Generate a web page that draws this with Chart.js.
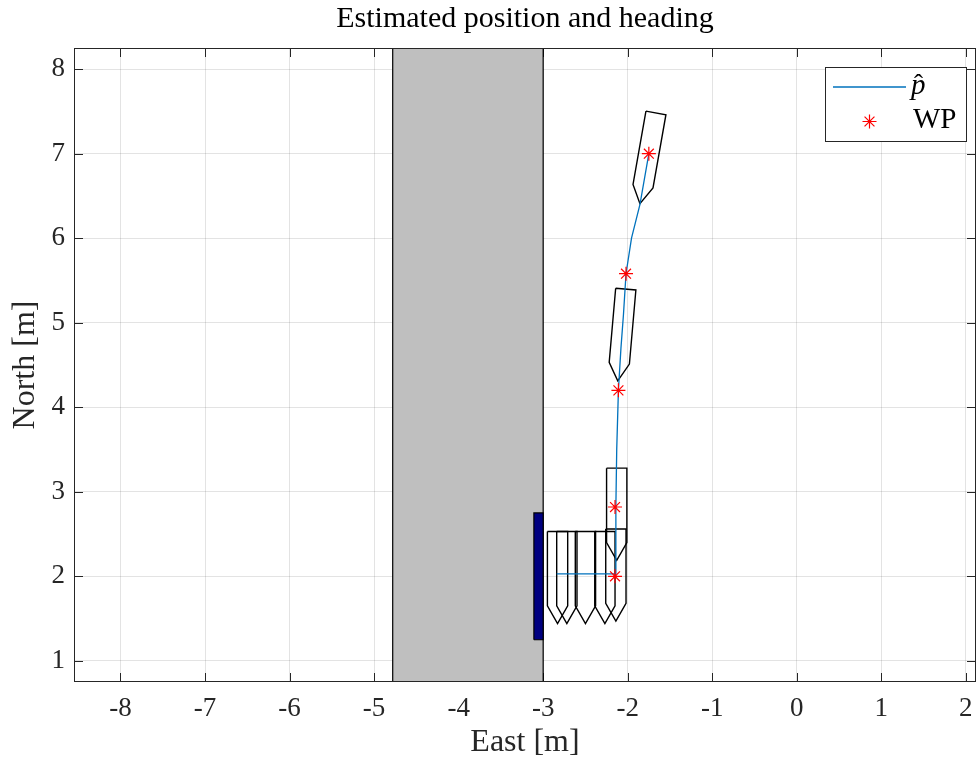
<!DOCTYPE html>
<html>
<head>
<meta charset="utf-8">
<script src="https://cdn.jsdelivr.net/npm/chart.js@4.4.1/dist/chart.umd.min.js"></script>
<style>
  html, body { margin: 0; padding: 0; background: #ffffff; }
  #wrap { width: 976px; height: 762px; }
</style>
</head>
<body>
<div id="wrap"><canvas id="c" width="976" height="762"></canvas></div>
<script>
// ---------------- data ----------------
const xTicks = [-8, -7, -6, -5, -4, -3, -2, -1, 0, 1, 2];
const yTicks = [1, 2, 3, 4, 5, 6, 7, 8];
const xLimits = [-8.55, 2.12];
const yLimits = [0.75, 8.25];

// estimated position p-hat
const pathEast  = [-2.84, -2.14, -2.14, -2.13, -2.11, -2.08, -2.05, -2.02, -1.955, -1.855, -1.75];
const pathNorth = [ 2.03,  2.03,  2.82,  3.50,  4.20,  4.70,  5.10,  5.58,  6.00,   6.40,   7.00];

// waypoints
const wpEast  = [-2.15, -2.15, -2.11, -2.02, -1.75];
const wpNorth = [ 2.00,  2.82,  4.20,  5.58,  7.00];

// vessel poses (centre east, centre north, heading deg clockwise from north)
const boatEast    = [-2.83, -2.72, -2.50, -2.27, -2.14, -2.13, -2.07, -1.76];
const boatNorth   = [ 1.99,  1.99,  1.99,  1.99,  2.02,  2.74,  4.86,  6.95];
const boatHeading = [ 0,     0,     0,     0,     0,     0,     5,     10  ];

// quay (grey) and fender (navy) regions
const quayEast    = [-4.78, -3.00];
const fenderEast  = [-3.11, -3.00];
const fenderNorth = [ 1.25,  2.75];

// ---------------- helpers ----------------
// hull outline in body frame: [forward, starboard]
const hull = [[0.54, -0.12], [0.54, 0.12], [-0.34, 0.12], [-0.55, 0.0], [-0.34, -0.12], [0.54, -0.12]];
function hullPoints(e, n, hdgDeg) {
  const t = hdgDeg * Math.PI / 180;
  const fx = Math.sin(t), fy = Math.cos(t);
  const rx = Math.cos(t), ry = -Math.sin(t);
  return hull.map(([u, v]) => ({ x: e + u * fx + v * rx, y: n + u * fy + v * ry }));
}
function rectOutline(x0, x1, y0, y1) {
  return [{x: x0, y: y0}, {x: x0, y: y1}, {x: x1, y: y1}, {x: x1, y: y0}, {x: x0, y: y0}];
}

const SERIF = "'Liberation Serif', 'Times New Roman', serif";
const AXC = '#262626';

const datasets = [];
datasets.push({
  label: 'quayFill', data: [{x: quayEast[0], y: yLimits[1]}, {x: quayEast[1], y: yLimits[1]}],
  showLine: true, borderWidth: 0, borderColor: 'rgba(0,0,0,0)', backgroundColor: '#bfbfbf',
  fill: {value: yLimits[0]}, pointRadius: 0, order: 20
});
datasets.push({
  label: 'quayEdge', data: rectOutline(quayEast[0], quayEast[1], yLimits[0], yLimits[1]),
  showLine: true, borderWidth: 1.2, borderColor: '#000000', fill: false, pointRadius: 0, order: 19
});
datasets.push({
  label: 'fenderFill', data: [{x: fenderEast[0], y: fenderNorth[1]}, {x: fenderEast[1], y: fenderNorth[1]}],
  showLine: true, borderWidth: 0, borderColor: 'rgba(0,0,0,0)', backgroundColor: '#000080',
  fill: {value: fenderNorth[0]}, pointRadius: 0, order: 18
});
datasets.push({
  label: 'fenderEdge', data: rectOutline(fenderEast[0], fenderEast[1], fenderNorth[0], fenderNorth[1]),
  showLine: true, borderWidth: 1.2, borderColor: '#000000', fill: false, pointRadius: 0, order: 17
});
for (let i = 0; i < boatEast.length; i++) {
  datasets.push({
    label: 'boat' + i, data: hullPoints(boatEast[i], boatNorth[i], boatHeading[i]),
    showLine: true, borderWidth: 1.4, borderColor: '#000000', fill: false, pointRadius: 0,
    tension: 0, order: 10
  });
}
datasets.push({
  label: 'p', data: pathEast.map((e, i) => ({x: e, y: pathNorth[i]})),
  showLine: true, borderWidth: 1.3, borderColor: '#0072BD', fill: false, pointRadius: 0, order: 5
});
datasets.push({
  label: 'WP', data: wpEast.map((e, i) => ({x: e, y: wpNorth[i]})),
  showLine: false, pointStyle: 'star', pointRadius: 7, pointBorderColor: '#ff0000',
  borderColor: '#ff0000', pointBorderWidth: 1.2, backgroundColor: '#ff0000', order: 1
});

const tickPlugin = {
  id: 'inTicks',
  beforeDatasetsDraw(chart) {
    const {ctx, chartArea: a, scales: {x, y}} = chart;
    const L = 9;
    ctx.save();
    ctx.strokeStyle = AXC; ctx.lineWidth = 1;
    ctx.beginPath();
    xTicks.forEach(v => {
      const px = Math.round(x.getPixelForValue(v)) + 0.5;
      ctx.moveTo(px, a.bottom); ctx.lineTo(px, a.bottom - L);
      ctx.moveTo(px, a.top); ctx.lineTo(px, a.top + L);
    });
    yTicks.forEach(v => {
      const py = Math.round(y.getPixelForValue(v)) + 0.5;
      ctx.moveTo(a.left, py); ctx.lineTo(a.left + L, py);
      ctx.moveTo(a.right, py); ctx.lineTo(a.right - L, py);
    });
    ctx.stroke();
    ctx.restore();
  },
  afterDatasetsDraw(chart) {
    const {ctx, chartArea: a} = chart;
    ctx.save();
    ctx.strokeStyle = AXC; ctx.lineWidth = 1;
    ctx.strokeRect(Math.round(a.left) + 0.5, Math.round(a.top) + 0.5,
                   Math.round(a.right - a.left) - 1, Math.round(a.bottom - a.top) - 1);
    ctx.restore();
  }
};

const legendPlugin = {
  id: 'boxLegend',
  afterDraw(chart) {
    const {ctx} = chart;
    const bx = 825, by = 67, bw = 141, bh = 74;
    ctx.save();
    ctx.fillStyle = '#ffffff';
    ctx.fillRect(bx, by, bw, bh);
    ctx.strokeStyle = AXC; ctx.lineWidth = 1;
    ctx.strokeRect(bx + 0.5, by + 0.5, bw, bh);
    ctx.strokeStyle = '#0072BD'; ctx.lineWidth = 1.3;
    ctx.beginPath(); ctx.moveTo(833, 87); ctx.lineTo(906, 87); ctx.stroke();
    ctx.fillStyle = '#000000';
    ctx.textBaseline = 'alphabetic'; ctx.textAlign = 'left';
    ctx.font = 'italic 29px ' + SERIF;
    ctx.fillText('p', 911, 94);
    ctx.font = '27px ' + SERIF;
    ctx.fillText('\u02C6', 914, 93);
    const r = 7, cx = 869.5, cy = 121.5;
    ctx.strokeStyle = '#ff0000'; ctx.lineWidth = 1.2;
    ctx.beginPath();
    ctx.moveTo(cx - r, cy); ctx.lineTo(cx + r, cy);
    ctx.moveTo(cx, cy - r); ctx.lineTo(cx, cy + r);
    const d = r * Math.SQRT1_2;
    ctx.moveTo(cx - d, cy - d); ctx.lineTo(cx + d, cy + d);
    ctx.moveTo(cx - d, cy + d); ctx.lineTo(cx + d, cy - d);
    ctx.stroke();
    ctx.fillStyle = '#000000';
    ctx.font = '29px ' + SERIF;
    ctx.fillText('WP', 913, 128);
    ctx.restore();
  }
};

const gridColor = 'rgba(38,38,38,0.13)';

new Chart(document.getElementById('c'), {
  type: 'scatter',
  data: { datasets },
  options: {
    responsive: false,
    animation: false,
    devicePixelRatio: 1,
    layout: { padding: 0, autoPadding: false },
    plugins: {
      legend: { display: false },
      tooltip: { enabled: false },
      title: {
        display: true, fullSize: false, text: 'Estimated position and heading', color: '#000000',
        font: { family: SERIF, size: 30, weight: 'normal', lineHeight: 1.2 },
        padding: { top: 1, bottom: 11 }
      }
    },
    scales: {
      x: {
        type: 'linear', min: xLimits[0], max: xLimits[1],
        afterBuildTicks: s => { s.ticks = xTicks.map(v => ({value: v})); },
        afterFit: s => { s.height = 80; s.paddingLeft = 0; s.paddingRight = 0; },
        ticks: { color: AXC, font: { family: SERIF, size: 27 }, padding: 11, maxRotation: 0,
                 callback: v => String(v) },
        grid: { color: gridColor, drawTicks: false, lineWidth: 1 },
        border: { display: false },
        title: { display: true, text: 'East [m]', color: AXC,
                 font: { family: SERIF, size: 32, lineHeight: 1.2 }, padding: { top: 0, bottom: 0 } }
      },
      y: {
        type: 'linear', min: yLimits[0], max: yLimits[1],
        afterBuildTicks: s => { s.ticks = yTicks.map(v => ({value: v})); },
        afterFit: s => { s.width = 74; s.paddingTop = 0; s.paddingBottom = 0; },
        ticks: { color: AXC, font: { family: SERIF, size: 27 }, padding: 9,
                 callback: v => String(v) },
        grid: { color: gridColor, drawTicks: false, lineWidth: 1 },
        border: { display: false },
        title: { display: true, text: 'North [m]', color: AXC,
                 font: { family: SERIF, size: 32, lineHeight: 1.2 }, padding: { top: 6, bottom: 0 } }
      }
    }
  },
  plugins: [tickPlugin, legendPlugin]
});
</script>
</body>
</html>
